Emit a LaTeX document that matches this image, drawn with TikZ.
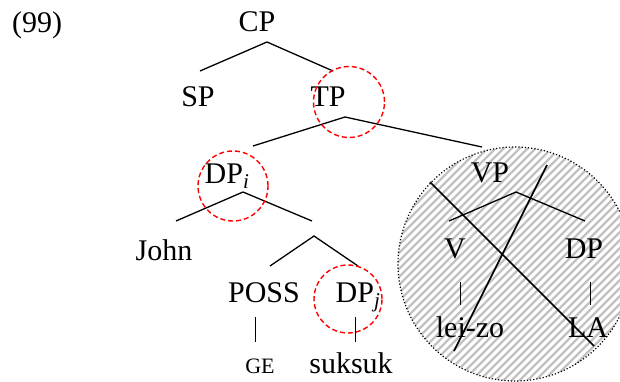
\documentclass[tikz,border=0pt]{standalone}
\usepackage{fontspec}
\setmainfont{Liberation Serif}
\begin{document}
\begin{tikzpicture}[x=1pt,y=-1pt,
  lbl/.style={anchor=base,inner sep=0pt,font=\fontsize{30}{36}\selectfont},
  smalllbl/.style={anchor=base,inner sep=0pt,font=\fontsize{22}{26}\selectfont},
  branch/.style={line width=1.3pt},
  crossline/.style={line width=1.7pt},
  focus/.style={draw=red,circle,inner sep=0pt,line width=1.4pt,dash pattern=on 5pt off 3pt},
  hatchline/.style={draw=gray!48,line width=2.2pt}
]
\path[use as bounding box] (0,0) rectangle (620,382);
\clip (0,0) rectangle (620,382);
\fill[white] (0,0) rectangle (620,382);

% hatched region around VP
\coordinate (vpc) at (515,264);
\begin{scope}
  \clip (vpc) circle [radius=117pt];
  \foreach \c in {540,548,...,1020} \draw[hatchline] (\c-400,400) -- (\c,0);
\end{scope}
\draw[dotted,line width=1.2pt] (vpc) circle [radius=117pt];

% labels
\node[lbl,anchor=base west] (ex) at (12,33) {(99)};
\node[lbl] (cp) at (257,32) {CP};
\node[lbl] (sp) at (198,107) {SP};
\node[lbl] (tp) at (328,107) {TP};
\node[lbl] (dpi) at (227,183) {DP\textsubscript{\textit{i}}};
\node[lbl] (john) at (164,260) {John};
\node[lbl] (poss) at (264,302) {POSS};
\node[lbl] (dpj) at (358,302) {DP\textsubscript{\textit{j}}};
\node[smalllbl] (ge) at (260,373) {GE};
\node[lbl] (suk) at (351,373) {suksuk};
\node[lbl] (vp) at (490,182) {VP};
\node[lbl] (v) at (455,258) {V};
\node[lbl] (dp) at (584,258) {DP};
\node[lbl] (lei) at (470,337) {lei-zo};
\node[lbl] (la) at (588,337) {LA};

% branch points
\coordinate (cpA) at (267,42);  \coordinate (cpL) at (200,71);  \coordinate (cpR) at (333,71);
\coordinate (tpA) at (345,117); \coordinate (tpL) at (253,146); \coordinate (tpR) at (482,147);
\coordinate (diA) at (243,192); \coordinate (diL) at (176,221); \coordinate (diR) at (312,221);
\coordinate (npA) at (314,236); \coordinate (npL) at (270,266); \coordinate (npR) at (358,266);
\coordinate (vpA) at (516,192); \coordinate (vpL) at (449,221); \coordinate (vpR) at (585,221);
\coordinate (possT) at (255,317); \coordinate (possB) at (255,342);
\coordinate (djT) at (355,317);   \coordinate (djB) at (355,342);
\coordinate (vT) at (460,282);    \coordinate (vB) at (460,305);
\coordinate (dpT) at (590,282);   \coordinate (dpB) at (590,305);

\draw[branch] (cpL) -- (cpA) -- (cpR);
\draw[branch] (tpL) -- (tpA) -- (tpR);
\draw[branch] (diL) -- (diA) -- (diR);
\draw[branch] (npL) -- (npA) -- (npR);
\draw[branch] (vpL) -- (vpA) -- (vpR);
\draw[line width=0.9pt] (possT) -- (possB);
\draw[line width=0.9pt] (djT) -- (djB);
\draw[line width=0.9pt] (vT) -- (vB);
\draw[line width=0.9pt] (dpT) -- (dpB);

% crossing-out lines
\coordinate (xaT) at (430,182); \coordinate (xaB) at (594,346);
\coordinate (xbT) at (547,165); \coordinate (xbB) at (454,351);
\draw[crossline] (xaT) -- (xaB);
\draw[crossline] (xbT) -- (xbB);

% red dashed circles
\node[focus,minimum size=71pt] (tpring) at (349,102) {};
\node[focus,minimum size=70pt] (dpiring) at (233,186) {};
\node[focus,minimum size=68pt] (dpjring) at (348,299) {};
\end{tikzpicture}
\end{document}
